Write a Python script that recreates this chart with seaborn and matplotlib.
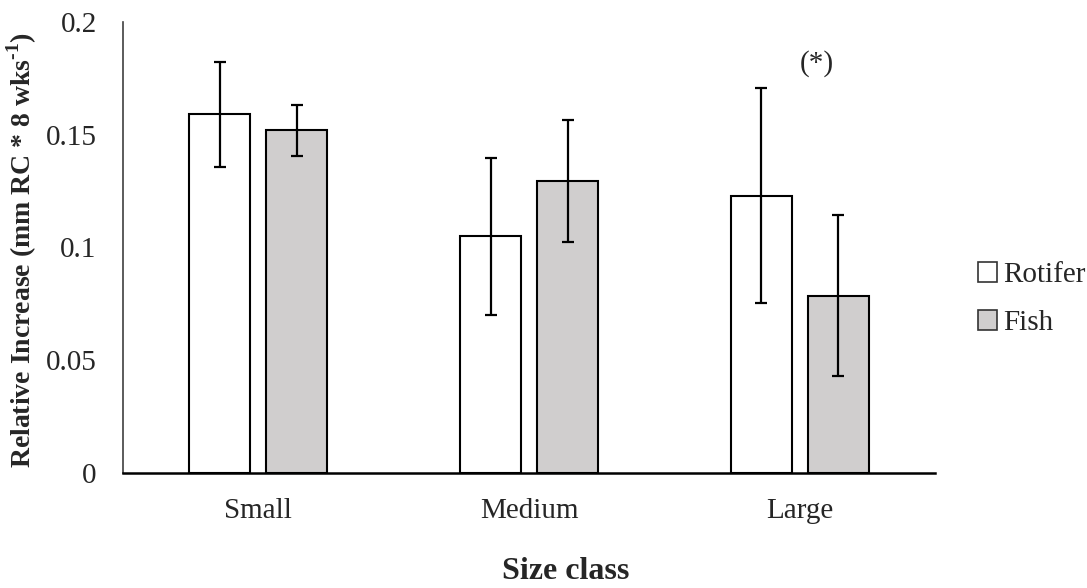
import pandas as pd
import numpy as np
import matplotlib
matplotlib.use("Agg")
import matplotlib.pyplot as plt
import seaborn as sns
from matplotlib.patches import Patch

# values
size_classes = ["Small", "Medium", "Large"]
groups = ["Rotifer", "Fish"]
rotifer_mean = [0.159, 0.105, 0.123]
rotifer_err = [0.0233, 0.0348, 0.0478]
fish_mean = [0.152, 0.1296, 0.0786]
fish_err = [0.0114, 0.027, 0.0357]

df = pd.DataFrame({
    "size": size_classes * 2,
    "group": ["Rotifer"] * 3 + ["Fish"] * 3,
    "value": rotifer_mean + fish_mean,
    "err": rotifer_err + fish_err,
})

sns.set_style("white")
plt.rcParams["font.family"] = ["Liberation Serif", "DejaVu Serif"]
plt.rcParams["mathtext.fontset"] = "custom"
plt.rcParams["mathtext.rm"] = "Liberation Serif:bold"
plt.rcParams["mathtext.bf"] = "Liberation Serif:bold"

colors = {"Rotifer": "#FFFFFF", "Fish": "#D0CECE"}

fig = plt.figure(figsize=(10.87, 5.88), dpi=100)
ax = fig.add_axes([0.1132, 0.1956, 0.7470, 0.7670])

sns.barplot(data=df, x="size", y="value", hue="group", hue_order=groups,
            palette=colors, edgecolor="black", linewidth=1.5,
            width=0.569, gap=0.208, errorbar=None, legend=False, ax=ax)

# error bars on top of the seaborn bars
for i, g in enumerate(groups):
    sub = df[df["group"] == g]
    for j, (v, e) in enumerate(zip(sub["value"], sub["err"])):
        p = ax.patches[i * 3 + j]
        xc = p.get_x() + p.get_width() / 2
        ax.errorbar(xc, v, yerr=e, color="black", elinewidth=1.6,
                    capsize=4.5, capthick=1.6)

ax.text(2.064, 0.1818, "(*)", fontsize=21, ha="center", va="center")

ax.set_ylim(0, 0.2)
ax.set_xlim(-0.5, 2.5)
ax.set_yticks([0, 0.05, 0.1, 0.15, 0.2])
ax.set_yticklabels(["0", "0.05", "0.1", "0.15", "0.2"])
ax.tick_params(axis="y", length=0, pad=19, labelsize=21)
ax.tick_params(axis="x", length=0, pad=18, labelsize=21)

for s in ["top", "right"]:
    ax.spines[s].set_visible(False)
ax.spines["left"].set_color("#404040")
ax.spines["left"].set_linewidth(1.2)
ax.spines["bottom"].set_color("black")
ax.spines["bottom"].set_linewidth(1.8)

ax.set_ylabel(r"Relative Increase (mm RC * 8 wks$^{\text{-1}}$)",
              fontsize=20, fontweight="bold", va="center")
ax.yaxis.set_label_coords(-0.1244, 0.494)
ax.set_xlabel("Size class", fontsize=23, fontweight="bold", va="center")
ax.xaxis.set_label_coords(0.5456, -0.2195)

handles = [Patch(facecolor=colors[g], edgecolor="#333333", linewidth=1.2, label=g)
           for g in groups]
fig.legend(handles=handles, loc="center left", bbox_to_anchor=(0.8755, 0.491),
           frameon=False, fontsize=21, handlelength=0.65, handleheight=0.65,
           handletextpad=0.2, labelspacing=0.75)

fig.savefig("out.png", dpi=100)
